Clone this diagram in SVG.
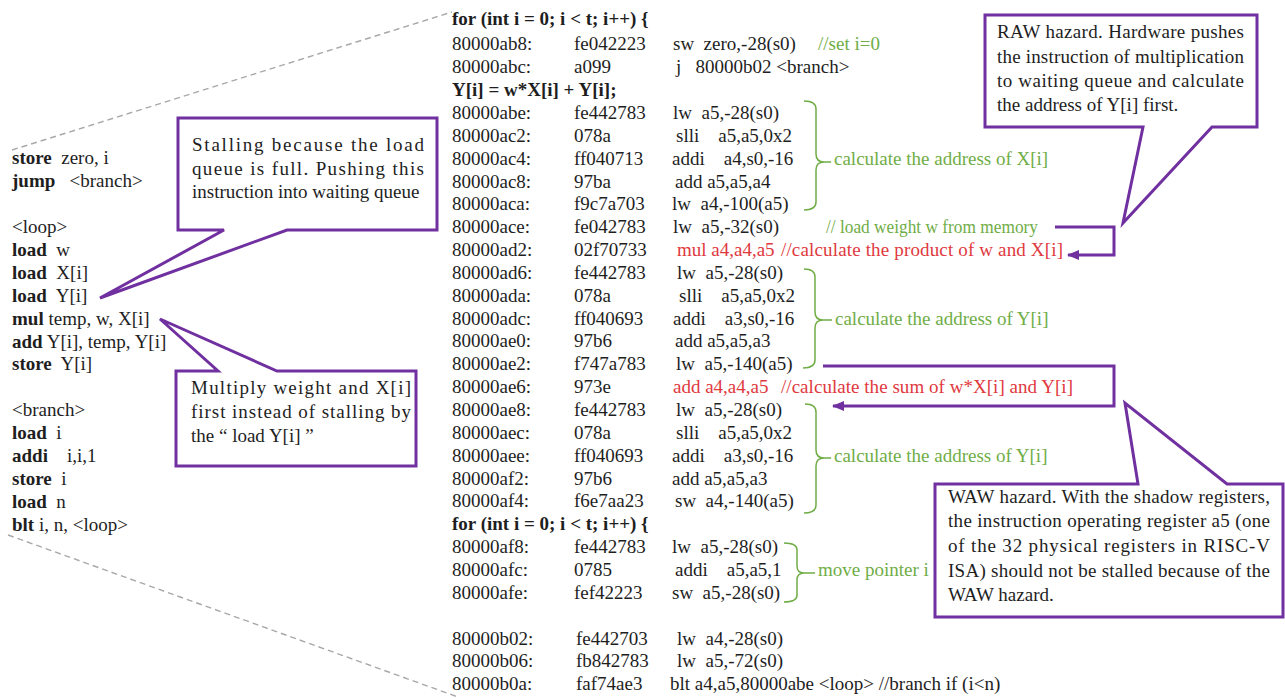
<svg xmlns="http://www.w3.org/2000/svg" width="1285" height="698" viewBox="0 0 1285 698">
  <style>
    text { font-family: "Liberation Serif", "Times New Roman", serif; font-size: 19px; fill: #1e1e1e; white-space: pre; }
    .b { font-weight: bold; }
    .g { fill: #70AD47; }
    .r { fill: #E0393E; }
    .callout { fill: #ffffff; stroke: #7030A0; stroke-width: 3; stroke-linejoin: miter; }
    .brace { fill: none; stroke: #70AD47; stroke-width: 1.5; }
    .zoom { fill: none; stroke: #A8A8A8; stroke-width: 1.4; stroke-dasharray: 6 4; }
    .link { fill: none; stroke: #7030A0; stroke-width: 3; }
  </style>
  <defs>
    <marker id="head" viewBox="0 0 12 10" refX="11" refY="5" markerWidth="12" markerHeight="10" markerUnits="userSpaceOnUse" orient="auto">
      <path d="M0,0 L12,5 L0,10 Z" fill="#7030A0"/>
    </marker>
  </defs>
  <rect width="1285" height="698" fill="#ffffff"/>

  <!-- dashed zoom guides from the pseudo-code to the disassembly -->
  <g id="guides">
    <line class="zoom" x1="12" y1="150" x2="452" y2="12"/>
    <line class="zoom" x1="8" y1="535" x2="458" y2="697"/>
  </g>

  <!-- pseudo-code listing -->
  <g id="pseudo">
    <text xml:space="preserve" x="12" y="164"><tspan class="b">store</tspan>  zero, i</text>
    <text xml:space="preserve" x="12" y="187"><tspan class="b">jump</tspan>   &lt;branch&gt;</text>
    <text xml:space="preserve" x="12" y="233">&lt;loop&gt;</text>
    <text xml:space="preserve" x="12" y="256"><tspan class="b">load</tspan>  w</text>
    <text xml:space="preserve" x="12" y="279"><tspan class="b">load</tspan>  X[i]</text>
    <text xml:space="preserve" x="12" y="302"><tspan class="b">load</tspan>  Y[i]</text>
    <text xml:space="preserve" x="12" y="325"><tspan class="b">mul</tspan> temp, w, X[i]</text>
    <text xml:space="preserve" x="12" y="348"><tspan class="b">add</tspan> Y[i], temp, Y[i]</text>
    <text xml:space="preserve" x="12" y="370"><tspan class="b">store</tspan>  Y[i]</text>
    <text xml:space="preserve" x="12" y="416">&lt;branch&gt;</text>
    <text xml:space="preserve" x="12" y="439"><tspan class="b">load</tspan>  i</text>
    <text xml:space="preserve" x="12" y="462"><tspan class="b">addi</tspan>    i,i,1</text>
    <text xml:space="preserve" x="12" y="485"><tspan class="b">store</tspan>  i</text>
    <text xml:space="preserve" x="12" y="508"><tspan class="b">load</tspan>  n</text>
    <text xml:space="preserve" x="12" y="531"><tspan class="b">blt</tspan> i, n, &lt;loop&gt;</text>
  </g>

  <!-- disassembly listing -->
  <g id="disasm">
    <text class="b" xml:space="preserve" x="452" y="24.5">for (int i = 0; i &lt; t; i++) {</text>
    <text x="452" y="50.4">80000ab8:</text><text x="574" y="50.4">fe042223</text><text xml:space="preserve" x="673" y="50.4">sw  zero,-28(s0)</text><text class="g" x="818" y="50.4">//set i=0</text>
    <text x="452" y="73.2">80000abc:</text><text x="574" y="73.2">a099</text><text xml:space="preserve" x="676" y="73.2">j   80000b02 &lt;branch&gt;</text>
    <text class="b" xml:space="preserve" x="452" y="96.1">Y[i] = w*X[i] + Y[i];</text>
    <text x="452" y="118.9">80000abe:</text><text x="574" y="118.9">fe442783</text><text xml:space="preserve" x="673" y="118.9">lw  a5,-28(s0)</text>
    <text x="452" y="141.8">80000ac2:</text><text x="574" y="141.8">078a</text><text xml:space="preserve" x="676" y="141.8">slli    a5,a5,0x2</text>
    <text x="452" y="164.6">80000ac4:</text><text x="574" y="164.6">ff040713</text><text xml:space="preserve" x="672" y="164.6">addi    a4,s0,-16</text><text class="g" x="834" y="164.6">calculate the address of X[i]</text>
    <text x="452" y="187.5">80000ac8:</text><text x="574" y="187.5">97ba</text><text xml:space="preserve" x="675" y="187.5">add a5,a5,a4</text>
    <text x="452" y="210.3">80000aca:</text><text x="574" y="210.3">f9c7a703</text><text xml:space="preserve" x="672" y="210.3">lw  a4,-100(a5)</text>
    <text x="452" y="233.2">80000ace:</text><text x="574" y="233.2">fe042783</text><text xml:space="preserve" x="673" y="233.2">lw  a5,-32(s0)</text><text class="g" x="826" y="233.2" textLength="212" lengthAdjust="spacingAndGlyphs">// load weight w from memory</text>
    <text x="452" y="256">80000ad2:</text><text x="574" y="256">02f70733</text><text class="r" xml:space="preserve" x="677" y="256">mul a4,a4,a5</text><text class="r" x="781" y="256" textLength="282" lengthAdjust="spacing">//calculate the product of w and X[i]</text>
    <text x="452" y="278.9">80000ad6:</text><text x="574" y="278.9">fe442783</text><text xml:space="preserve" x="677" y="278.9">lw  a5,-28(s0)</text>
    <text x="452" y="301.7">80000ada:</text><text x="574" y="301.7">078a</text><text xml:space="preserve" x="679" y="301.7">slli    a5,a5,0x2</text>
    <text x="452" y="324.6">80000adc:</text><text x="574" y="324.6">ff040693</text><text xml:space="preserve" x="673" y="324.6">addi    a3,s0,-16</text><text class="g" x="835" y="324.6">calculate the address of Y[i]</text>
    <text x="452" y="347.4">80000ae0:</text><text x="574" y="347.4">97b6</text><text xml:space="preserve" x="675" y="347.4">add a5,a5,a3</text>
    <text x="452" y="370.3">80000ae2:</text><text x="574" y="370.3">f747a783</text><text xml:space="preserve" x="676" y="370.3">lw  a5,-140(a5)</text>
    <text x="452" y="393.1">80000ae6:</text><text x="574" y="393.1">973e</text><text class="r" xml:space="preserve" x="673" y="393.1">add a4,a4,a5</text><text class="r" x="781" y="393.1" textLength="292" lengthAdjust="spacing">//calculate the sum of w*X[i] and Y[i]</text>
    <text x="452" y="416">80000ae8:</text><text x="574" y="416">fe442783</text><text xml:space="preserve" x="676" y="416">lw  a5,-28(s0)</text>
    <text x="452" y="438.8">80000aec:</text><text x="574" y="438.8">078a</text><text xml:space="preserve" x="676" y="438.8">slli    a5,a5,0x2</text>
    <text x="452" y="461.7">80000aee:</text><text x="574" y="461.7">ff040693</text><text xml:space="preserve" x="672" y="461.7">addi    a3,s0,-16</text><text class="g" x="834" y="461.7">calculate the address of Y[i]</text>
    <text x="452" y="484.5">80000af2:</text><text x="574" y="484.5">97b6</text><text xml:space="preserve" x="672" y="484.5">add a5,a5,a3</text>
    <text x="452" y="507.4">80000af4:</text><text x="574" y="507.4">f6e7aa23</text><text xml:space="preserve" x="675" y="507.4">sw  a4,-140(a5)</text>
    <text class="b" xml:space="preserve" x="452" y="530.2">for (int i = 0; i &lt; t; i++) {</text>
    <text x="452" y="553.1">80000af8:</text><text x="574" y="553.1">fe442783</text><text xml:space="preserve" x="672" y="553.1">lw  a5,-28(s0)</text>
    <text x="452" y="575.9">80000afc:</text><text x="574" y="575.9">0785</text><text xml:space="preserve" x="675" y="575.9">addi    a5,a5,1</text><text class="g" x="818" y="575.9">move pointer i</text>
    <text x="452" y="598.8">80000afe:</text><text x="574" y="598.8">fef42223</text><text xml:space="preserve" x="672" y="598.8">sw  a5,-28(s0)</text>
    <text x="452" y="644.5">80000b02:</text><text x="576" y="644.5">fe442703</text><text xml:space="preserve" x="677" y="644.5">lw  a4,-28(s0)</text>
    <text x="452" y="667.3">80000b06:</text><text x="576" y="667.3">fb842783</text><text xml:space="preserve" x="677" y="667.3">lw  a5,-72(s0)</text>
    <text x="452" y="690.2">80000b0a:</text><text x="576" y="690.2">faf74ae3</text><text xml:space="preserve" x="670" y="690.2">blt a4,a5,80000abe &lt;loop&gt; //branch if (i&lt;n)</text>
  </g>

  <!-- green braces grouping instruction runs -->
  <g id="braces">
    <path class="brace" d="M804,101 Q816,101 816,109 L816,154 Q816,162 824,162 Q816,162 816,170 L816,202 Q816,210 804,210 M824,162 H831"/>
    <path class="brace" d="M804,269 Q815,269 815,277 L815,312 Q815,320 823,320 Q815,320 815,328 L815,360 Q815,368 803,368 M823,320 H832"/>
    <path class="brace" d="M805,404 Q816,404 816,412 L816,450 Q816,458 824,458 Q816,458 816,466 L816,505 Q816,513 804,513 M824,458 H831"/>
    <path class="brace" d="M784,543 Q797,543 797,550 L797,566 Q797,573 804,573 Q797,573 797,580 L797,595 Q797,602 784,602 M804,573 H815"/>
  </g>

  <!-- connectors -->
  <g id="connectors">
    <path class="link" d="M1055,227 H1114 V255 H1068" marker-end="url(#head)"/>
    <path class="link" d="M823,366 H1114 V406 H833" marker-end="url(#head)"/>
  </g>

  <g id="note-stall">
    <path class="callout" d="M178,118 H437 V230 H287 L100,298 L224,230 H178 Z"/>
    <text x="192" y="151" textLength="232" lengthAdjust="spacing">Stalling because the load</text>
    <text x="192" y="175" textLength="232" lengthAdjust="spacing">queue is full. Pushing this</text>
    <text x="192" y="198">instruction into waiting queue</text>
  </g>

  <g id="note-multiply">
    <path class="callout" d="M176,371 H218 L160,319 L277,371 H416 V466 H176 Z"/>
    <text x="191" y="394" textLength="220" lengthAdjust="spacing">Multiply weight and X[i]</text>
    <text x="191" y="418" textLength="220" lengthAdjust="spacing">first instead of stalling by</text>
    <text x="191" y="442">the “ load Y[i] ”</text>
  </g>

  <g id="note-raw">
    <path class="callout" d="M985,15 H1257 V127 H1212 L1123,223 L1143,127 H985 Z"/>
    <text x="997" y="38" textLength="247" lengthAdjust="spacing">RAW hazard. Hardware pushes</text>
    <text x="997" y="63" textLength="247" lengthAdjust="spacing">the instruction of multiplication</text>
    <text x="997" y="87" textLength="247" lengthAdjust="spacing">to waiting queue and calculate</text>
    <text x="997" y="111">the address of Y[i] first.</text>
  </g>

  <g id="note-waw">
    <path class="callout" d="M935,484 H1138 L1125,403 L1227,484 H1283 V617 H935 Z"/>
    <text x="948" y="503" textLength="322" lengthAdjust="spacing">WAW hazard. With the shadow registers,</text>
    <text x="948" y="527" textLength="322" lengthAdjust="spacing">the instruction operating register a5 (one</text>
    <text x="948" y="552" textLength="322" lengthAdjust="spacing">of the 32 physical registers in RISC-V</text>
    <text x="948" y="577" textLength="322" lengthAdjust="spacing">ISA) should not be stalled because of the</text>
    <text x="948" y="601">WAW hazard.</text>
  </g>
</svg>
